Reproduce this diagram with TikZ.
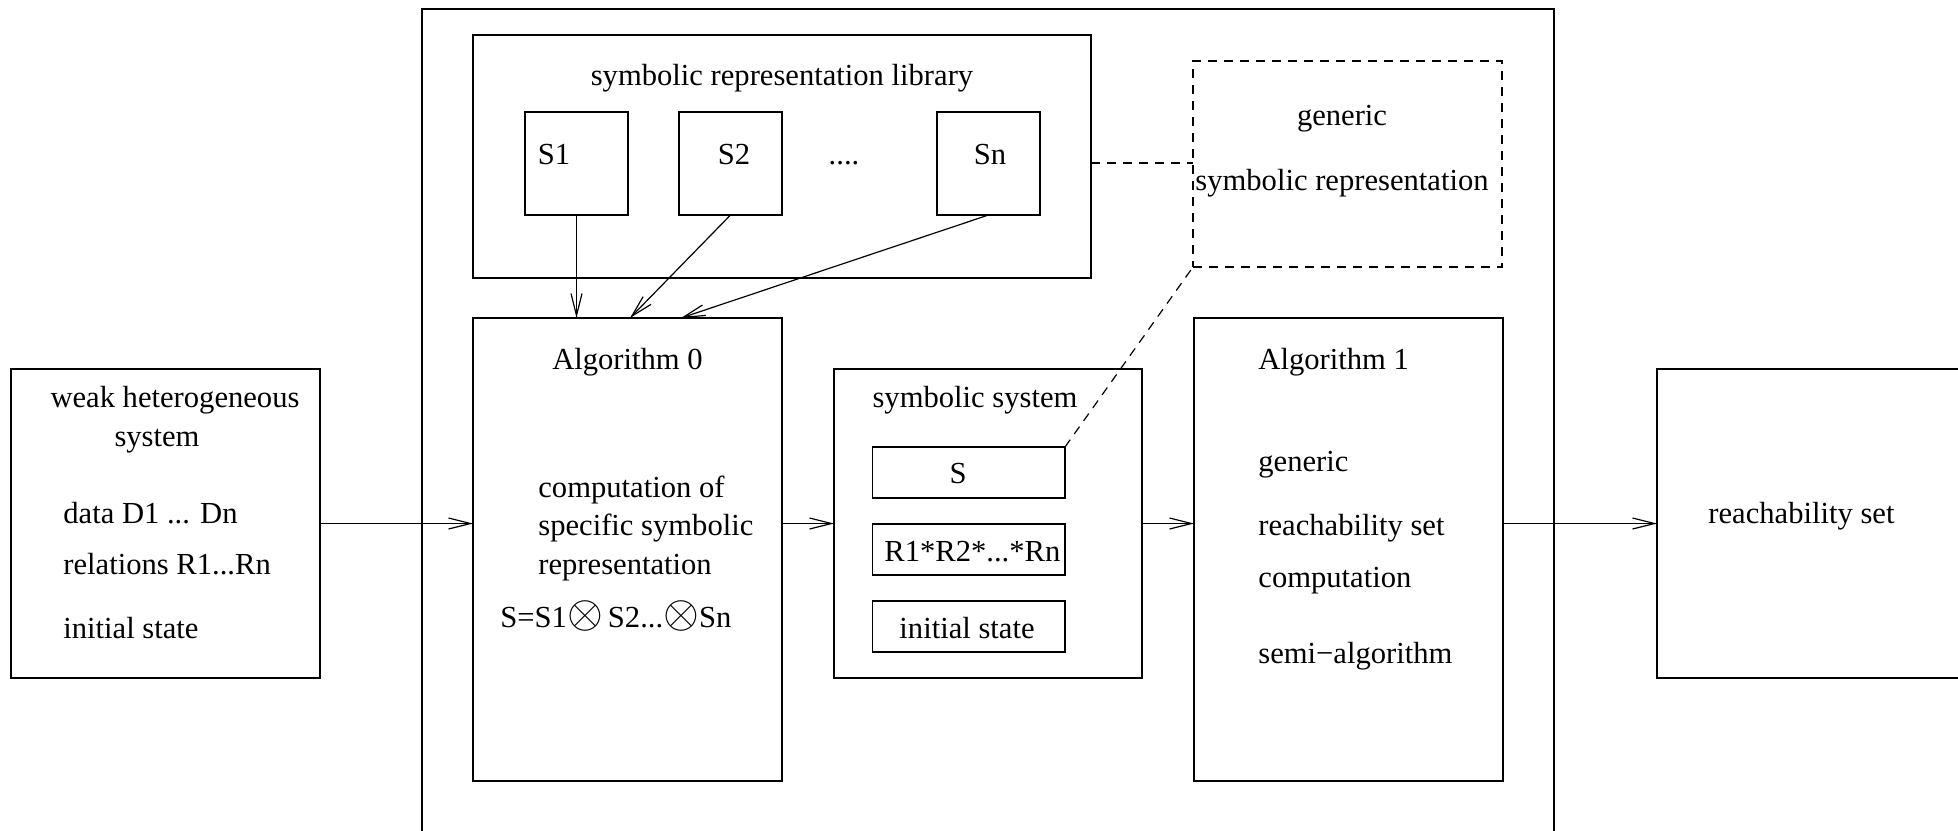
\documentclass[tikz,border=0pt]{standalone}
\usepackage{fontspec}
\setmainfont{Liberation Serif}
\usepackage{graphicx}
\usetikzlibrary{arrows.meta,calc}
\newcommand{\bigox}{\scalebox{1.6}{$\otimes$}}
\begin{document}
\begin{tikzpicture}[x=0.5pt,y=-0.5pt,
  font=\fontsize{15.3}{18}\selectfont,
  box/.style={draw, line width=0.7pt, inner sep=0pt, outer sep=0pt, anchor=north west},
  dbox/.style={box, dash pattern=on 4.5pt off 3.5pt},
  arr/.style={line width=0.6pt, -{Straight Barb[length=11pt,width=5.5pt,line width=0.6pt]}},
  dline/.style={line width=0.6pt, dash pattern=on 4.5pt off 3.5pt},
  txt/.style={inner sep=0pt, anchor=base},
  ltxt/.style={inner sep=0pt, anchor=base west}]
\useasboundingbox (0,0) rectangle (1958,830);
\clip (0,0) rectangle (1958,830);
% boxes
\node[box, minimum width=154.5pt, minimum height=154.5pt] (whs) at (11,369) {};
\node[box, minimum width=566pt, minimum height=450pt] (outer) at (422,9) {};
\node[box, minimum width=309pt, minimum height=121.5pt] (lib) at (473,35) {};
\node[box, minimum width=51.5pt, minimum height=51.5pt] (s1) at (525,112) {};
\node[box, minimum width=51.5pt, minimum height=51.5pt] (s2) at (679,112) {};
\node[box, minimum width=51.5pt, minimum height=51.5pt] (sn) at (937,112) {};
\node[dbox, minimum width=154.5pt, minimum height=103pt] (gen) at (1193,61) {};
\node[box, minimum width=154.5pt, minimum height=231.5pt] (alg0) at (473,318) {};
\node[box, minimum width=154pt, minimum height=154.5pt] (sys) at (834,369) {};
\node[box, minimum width=96.25pt, minimum height=25.5pt] (sb) at (872.5,447) {};
\node[box, minimum width=96.25pt, minimum height=25.5pt] (rb) at (872.5,524) {};
\node[box, minimum width=96.25pt, minimum height=25.5pt] (ib) at (872.5,601) {};
\node[box, minimum width=154.5pt, minimum height=231.5pt] (alg1) at (1194,318) {};
\node[box, minimum width=160pt, minimum height=154.5pt] (reach) at (1657,369) {};
% texts
\node[txt] (t1) at (175,407) {weak heterogeneous};
\node[txt] (t2) at (157,446) {system};
\node[ltxt] (t3) at (63,523) {data D1 ... Dn};
\node[ltxt] (t4) at (63,574) {relations R1...Rn};
\node[ltxt] (t5) at (63,638) {initial state};
\node[txt] (t6) at (782,85) {symbolic representation library};
\node[txt] (t7) at (554,164) {S1};
\node[txt] (t8) at (734,164) {S2};
\node[txt] (t9) at (844,164) {....};
\node[txt] (t10) at (990,164) {Sn};
\node[txt] (t11) at (1342,125) {generic};
\node[ltxt] (t12) at (1195,190) {symbolic representation};
\node[txt] (t13) at (627.5,369) {Algorithm 0};
\node[ltxt] (t14) at (538,497) {computation of};
\node[ltxt] (t15) at (538,535) {specific symbolic};
\node[ltxt] (t16) at (538,574) {representation};
\node[ltxt] (t17) at (500,627) {S=S1\bigox\,S2...\bigox Sn};
\node[txt] (t18) at (975,407) {symbolic system};
\node[txt] (t19) at (958,483) {S};
\node[ltxt] (t20) at (884,561) {R1*R2*...*Rn};
\node[txt] (t21) at (967,638) {initial state};
\node[ltxt] (t22) at (1258,369) {Algorithm 1};
\node[ltxt] (t23) at (1258,471) {generic};
\node[ltxt] (t24) at (1258,535) {reachability set};
\node[ltxt] (t25) at (1258,587) {computation};
\node[ltxt] (t26) at (1258,663) {semi−algorithm};
\node[ltxt] (t27) at (1708,523) {reachability set};
% connectors
\coordinate (in2) at (630,318);
\coordinate (in3) at (681,318);
\draw[arr] (s1.south) -- (s1.south |- alg0.north);
\draw[arr] (s2.south) -- (in2);
\draw[arr] (sn.south) -- (in3);
\draw[arr] (whs.east) -- (whs.east -| alg0.west);
\draw[arr] (sys.west -| alg0.east) -- (sys.west);
\draw[arr] (sys.east) -- (sys.east -| alg1.west);
\draw[arr] (reach.west -| alg1.east) -- (reach.west);
\draw[dline] (lib.east |- 0,163) -- (gen.west |- 0,163);
\draw[dline] (sb.north east) -- (gen.south west);
\end{tikzpicture}
\end{document}
